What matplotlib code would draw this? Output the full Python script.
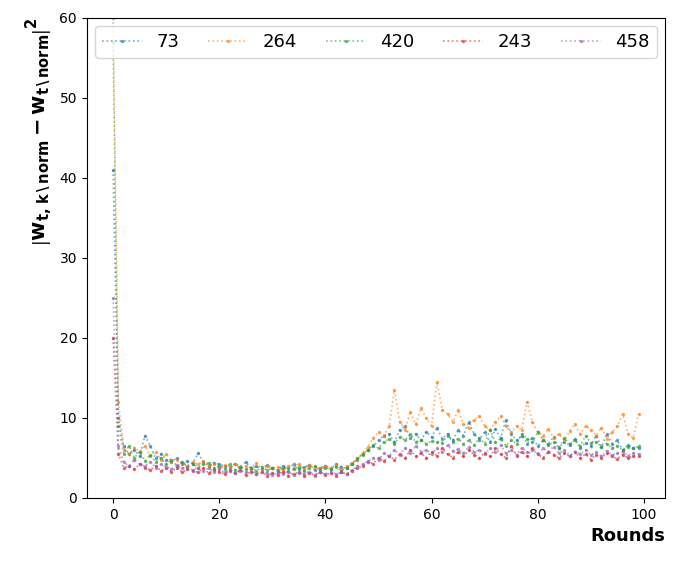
import numpy as np
import matplotlib
matplotlib.use('Agg')
import matplotlib.pyplot as plt

# client ids shown in the legend
clients = ['73', '264', '420', '243', '458']

rounds = np.arange(100)

c73 = [41, 10, 6.5, 5.5, 6.0, 5.2, 7.8, 6.5, 5.0, 5.5, 4.8, 4.5, 5.0, 4.2, 4.6, 4.3, 5.6, 4.5, 4.0, 4.4,
       4.2, 4.0, 3.8, 4.3, 3.9, 4.5, 3.7, 4.0, 3.6, 4.1, 3.8, 3.5, 4.0, 3.7, 4.2, 3.6, 3.9, 4.1, 3.5, 3.8,
       4.0, 3.6, 4.2, 3.9, 3.7, 4.3, 4.8, 5.5, 6.0, 6.5, 7.2, 7.8, 8.0, 7.0, 8.5, 9.0, 7.5, 8.0, 7.2, 8.3,
       7.6, 8.8, 7.4, 8.0, 7.2, 8.5, 7.8, 9.5, 8.0, 7.3, 8.2, 7.0, 8.6, 7.5, 9.8, 8.0, 7.2, 7.8, 6.8, 7.5,
       6.5, 7.2, 6.8, 7.6, 6.3, 7.0, 6.6, 7.4, 6.2, 6.9, 6.5, 7.8, 6.4, 8.0, 6.8, 7.2, 6.0, 6.6, 6.2, 6.3]

c264 = [60, 12, 6.0, 5.5, 6.3, 5.8, 6.5, 5.2, 5.8, 4.8, 5.5, 4.6, 4.8, 4.4, 4.0, 4.5, 4.2, 4.6, 4.0, 4.3,
        3.8, 4.1, 3.9, 4.2, 3.7, 4.0, 3.8, 4.4, 3.6, 4.0, 3.7, 3.9, 3.5, 4.0, 3.8, 4.3, 3.6, 4.1, 3.9, 3.7,
        4.0, 3.8, 4.1, 3.6, 4.0, 4.4, 4.9, 5.6, 6.4, 7.5, 8.2, 7.8, 9.0, 13.5, 9.5, 8.5, 10.8, 9.2, 11.2, 10.0,
        9.0, 14.5, 11.0, 10.5, 9.5, 11.0, 9.2, 8.8, 9.8, 10.2, 9.0, 8.5, 9.5, 10.2, 9.0, 8.2, 9.0, 8.5, 12.0, 9.5,
        8.2, 7.8, 8.6, 7.5, 8.0, 7.2, 8.4, 9.2, 8.0, 9.0, 8.5, 7.8, 8.8, 7.4, 8.2, 9.0, 10.5, 8.0, 7.5, 10.5]

c420 = [57, 9, 5.5, 6.5, 5.0, 5.8, 4.6, 5.4, 4.5, 5.0, 4.2, 4.8, 4.0, 4.5, 3.9, 4.3, 3.8, 4.2, 4.4, 3.7,
        4.0, 3.6, 4.2, 3.5, 3.9, 3.6, 3.8, 3.4, 3.9, 3.5, 3.7, 3.3, 3.8, 3.4, 3.6, 3.9, 3.4, 3.7, 4.0, 3.5,
        3.8, 3.6, 3.9, 3.4, 3.8, 4.2, 5.0, 5.4, 6.0, 6.6, 6.2, 7.0, 7.4, 6.8, 7.6, 7.2, 8.0, 7.0, 7.2, 6.8,
        7.1, 7.0, 6.9, 7.8, 7.0, 7.4, 6.8, 7.2, 6.6, 7.5, 6.8, 8.5, 7.0, 7.4, 6.5, 7.2, 6.8, 8.0, 7.4, 7.0,
        8.2, 7.2, 6.6, 7.0, 6.2, 7.5, 6.8, 7.2, 6.5, 7.8, 6.9, 7.0, 6.4, 6.8, 6.2, 6.5, 6.0, 6.4, 6.2, 6.5]

c243 = [20, 5.5, 3.8, 4.0, 3.6, 4.2, 3.8, 3.5, 4.0, 3.4, 3.7, 3.3, 3.8, 3.2, 3.6, 3.4, 3.2, 3.7, 3.1, 3.5,
        3.3, 3.0, 3.4, 3.1, 3.5, 2.9, 3.3, 3.0, 3.2, 2.8, 3.1, 2.9, 3.3, 2.8, 3.0, 3.2, 2.8, 3.1, 2.9, 3.3,
        2.9, 3.1, 2.8, 3.2, 3.0, 3.4, 3.8, 4.0, 4.5, 4.3, 5.0, 4.6, 5.2, 4.8, 5.5, 5.0, 6.0, 5.2, 5.6, 5.0,
        5.8, 5.3, 6.2, 5.5, 5.0, 5.8, 5.2, 6.0, 5.4, 5.0, 5.6, 5.2, 6.2, 5.5, 5.0, 6.5, 5.3, 5.8, 5.2, 6.3,
        5.5, 5.0, 5.8, 5.4, 5.0, 5.6, 5.2, 5.8, 5.0, 5.5, 4.8, 5.4, 5.0, 5.6, 5.2, 4.9, 5.4, 5.0, 5.2, 5.3]

c458 = [25, 6.5, 4.5, 4.0, 4.8, 4.2, 4.0, 4.5, 3.8, 4.2, 3.9, 3.6, 4.1, 3.7, 3.9, 3.5, 3.8, 3.4, 3.7, 3.3,
        3.6, 3.2, 3.5, 3.1, 3.4, 3.2, 3.5, 3.0, 3.3, 3.1, 2.9, 3.2, 3.0, 3.3, 2.9, 3.1, 3.0, 3.3, 2.8, 3.2,
        3.0, 3.3, 3.0, 3.2, 3.0, 3.5, 4.0, 4.2, 4.6, 5.0, 4.8, 5.6, 5.2, 6.0, 5.4, 6.2, 5.6, 6.5, 5.8, 6.0,
        5.5, 6.2, 5.7, 6.6, 5.9, 6.1, 5.6, 6.4, 5.8, 6.0, 5.5, 6.2, 5.8, 6.6, 5.6, 6.0, 5.4, 6.3, 5.7, 6.0,
        5.5, 6.2, 5.8, 6.4, 5.6, 6.0, 5.3, 5.8, 5.5, 6.0, 5.4, 5.7, 5.2, 5.9, 5.4, 5.6, 5.8, 5.3, 5.6, 5.5]

series = [c73, c264, c420, c243, c458]

fig = plt.figure(figsize=(6.89, 5.75), dpi=100)
ax = fig.add_axes([0.126, 0.134, 0.839, 0.835])

for name, vals in zip(clients, series):
    ax.plot(rounds, vals, linestyle=':', marker='.', markersize=3, linewidth=1.2,
            alpha=0.6, label=name)

ax.set_ylim(0, 60)
ax.set_xlabel('Rounds', fontsize=13, fontweight='bold', loc='right')
ax.set_ylabel(r'$\mathbf{\left|w_{t,\,k\,\backslash\,norm}-w_{t\,\backslash\,norm}\right|^2}$',
              fontsize=15, loc='top')
ax.legend(ncol=5, loc='upper left', mode='expand', bbox_to_anchor=(0.005, 0, 0.99, 0.995),
          fontsize=13, handlelength=2.2, borderaxespad=0.3)

fig.savefig('out.png', dpi=100)
